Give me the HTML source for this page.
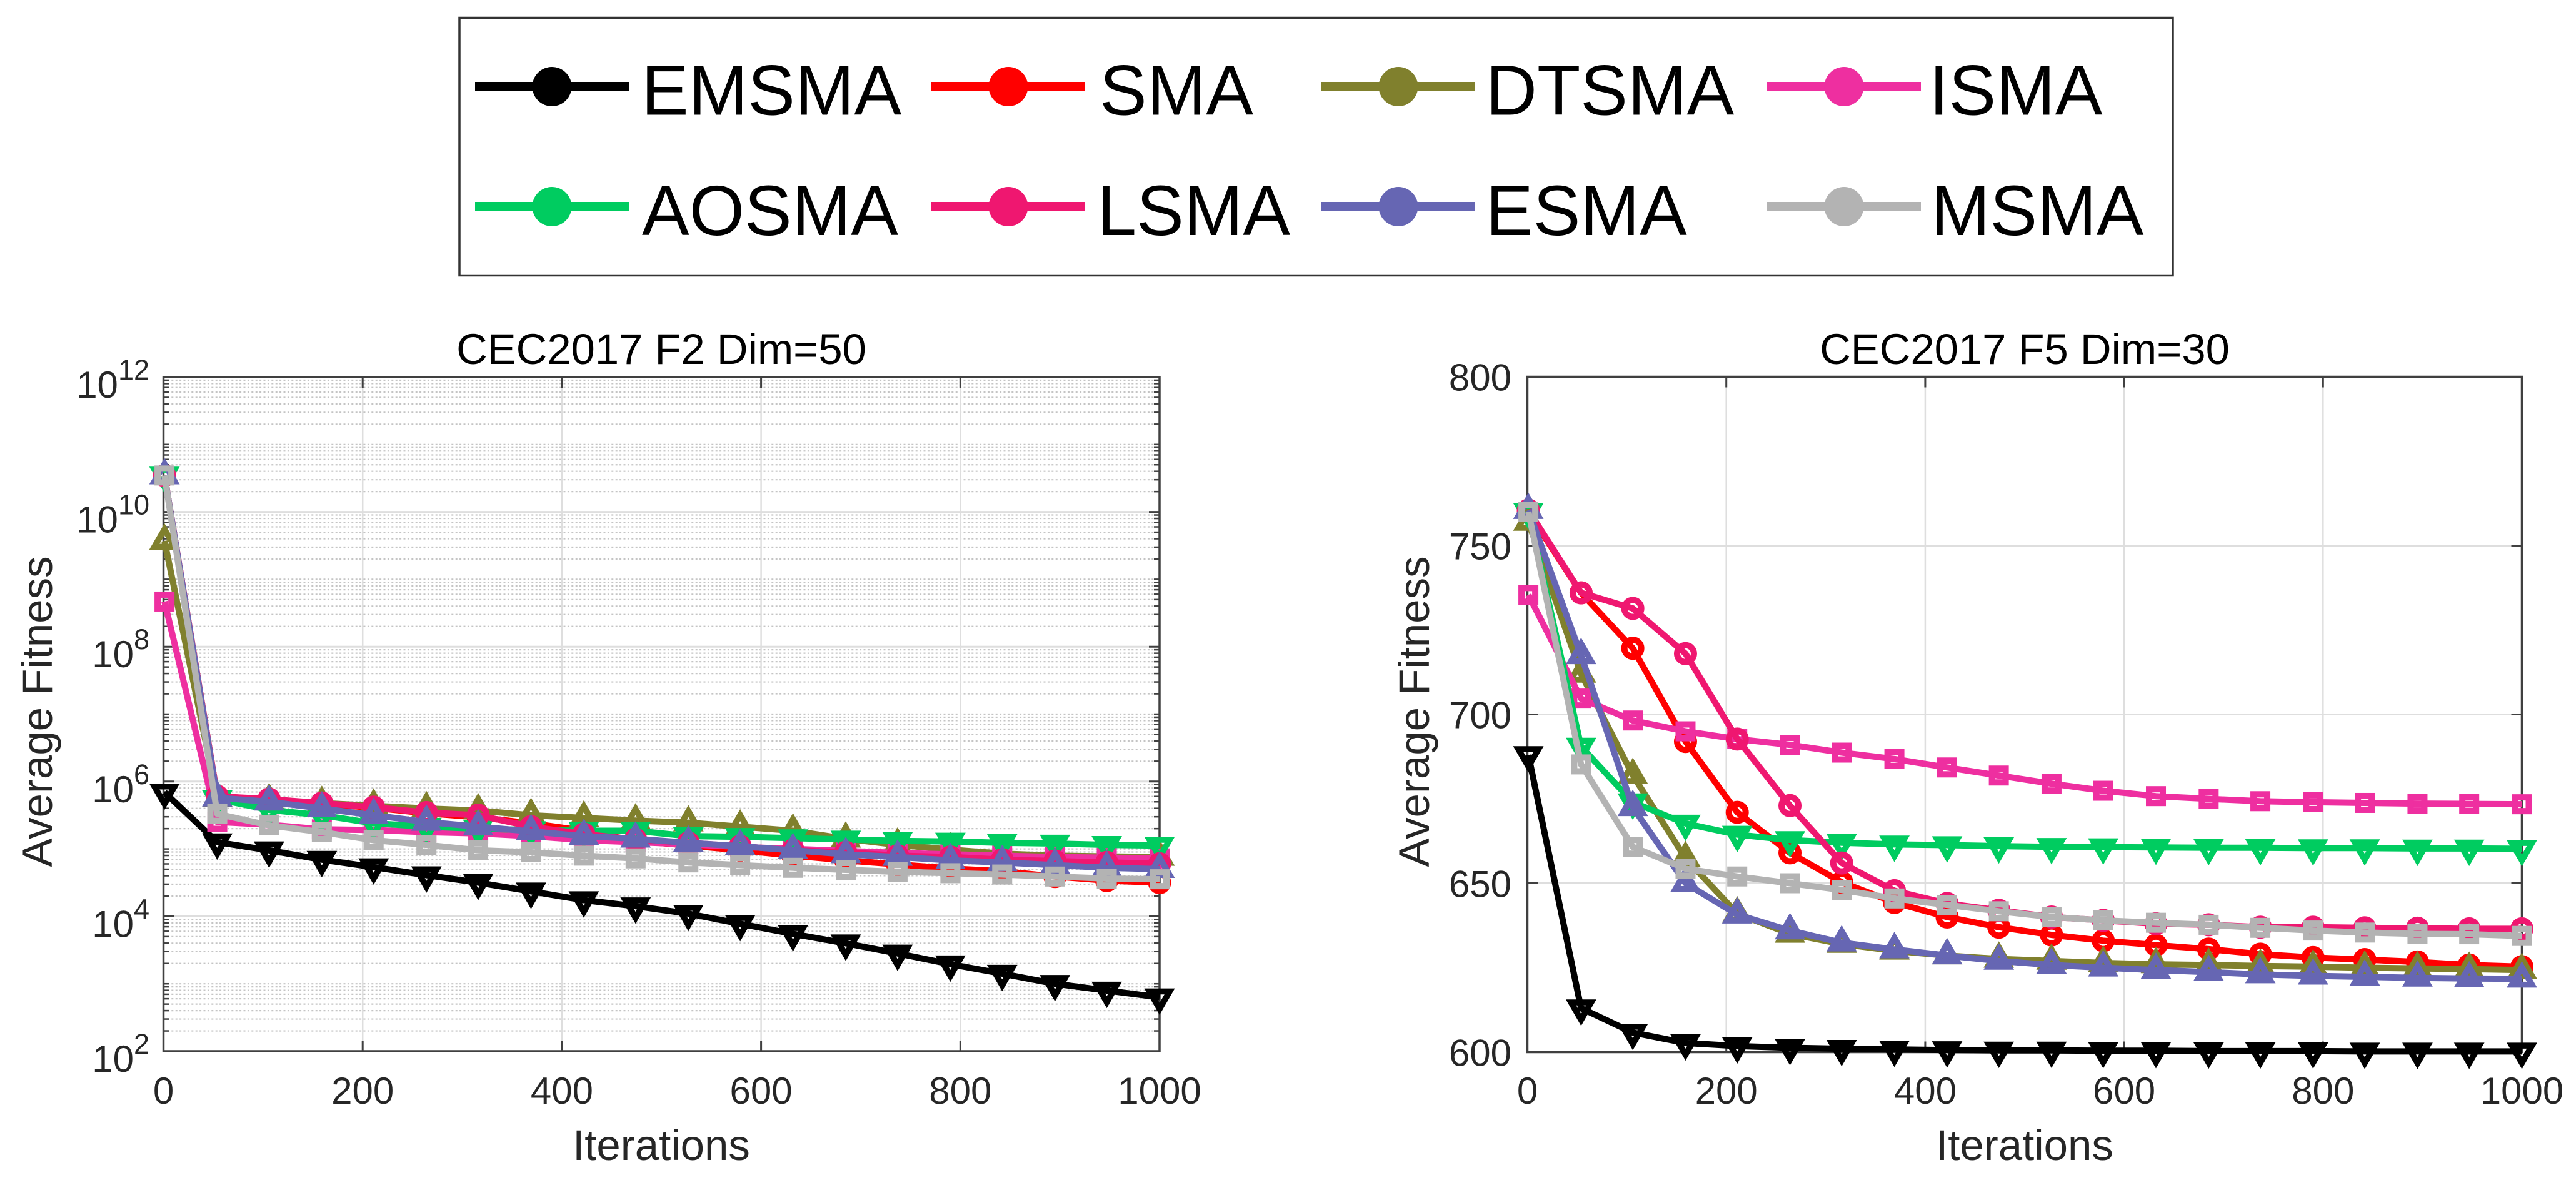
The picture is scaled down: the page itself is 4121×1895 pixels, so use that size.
<!DOCTYPE html>
<html lang="en">
<head>
<meta charset="utf-8">
<title>CEC2017 convergence curves</title>
<style>
html,body{margin:0;padding:0;background:#fff;}
svg{display:block;font-family:"Liberation Sans",Arial,sans-serif;}
</style>
</head>
<body>
<svg id="figure" xmlns="http://www.w3.org/2000/svg" width="4121" height="1895" viewBox="0 0 4121 1895">
  <rect width="4121" height="1895" fill="#fff"/>
  <g id="plot-f2"></g>
  <g id="plot-f5"></g>

  <text x="1058" y="582" font-size="68.8" text-anchor="middle" fill="#000">CEC2017 F2 Dim=50</text>
  <text x="1058" y="1855" font-size="69" text-anchor="middle" fill="#262626">Iterations</text>
  <text transform="translate(83,1138) rotate(-90)" font-size="69" text-anchor="middle" fill="#262626">Average Fitness</text>
  <text x="3239" y="582" font-size="68.8" text-anchor="middle" fill="#000">CEC2017 F5 Dim=30</text>
  <text x="3239" y="1855" font-size="69" text-anchor="middle" fill="#262626">Iterations</text>
  <text transform="translate(2286,1138) rotate(-90)" font-size="69" text-anchor="middle" fill="#262626">Average Fitness</text>

  <g>
    <rect x="735" y="28.5" width="2741" height="412" fill="#fff" stroke="#333" stroke-width="3.5"/>
    <g id="legend-entries"></g>
    <text x="1026" y="183.5" font-size="113.5">EMSMA</text>
    <text x="1759" y="183.5" font-size="113.5">SMA</text>
    <text x="2377" y="183.5" font-size="113.5">DTSMA</text>
    <text x="3086" y="183.5" font-size="113.5">ISMA</text>
    <text x="1027" y="376" font-size="113.5">AOSMA</text>
    <text x="1755" y="376" font-size="113.5">LSMA</text>
    <text x="2377" y="376" font-size="113.5">ESMA</text>
    <text x="3089" y="376" font-size="113.5">MSMA</text>
  </g>
</svg>
<script>
/* ---------- shared data ---------- */
const iterations = [1,54,106,159,211,264,316,369,422,474,527,579,632,685,737,790,842,895,947,1000];
const seriesNames = ['EMSMA','SMA','DTSMA','ISMA','AOSMA','LSMA','ESMA','MSMA'];
const xTicks = [0,200,400,600,800,1000];

/* ---------- F2 data: log10 of average fitness ---------- */
const f2EmsmaLog10 = [5.84,5.1,4.98,4.84,4.73,4.61,4.5,4.37,4.24,4.15,4.04,3.89,3.74,3.6,3.45,3.29,3.15,3.0,2.9,2.8];
const f2SmaLog10   = [10.54,5.78,5.73,5.67,5.61,5.53,5.47,5.38,5.27,5.12,5.05,4.98,4.9,4.83,4.77,4.71,4.67,4.59,4.53,4.5];
const f2DtsmaLog10 = [9.57,5.75,5.72,5.68,5.64,5.6,5.57,5.5,5.46,5.42,5.39,5.33,5.27,5.15,5.06,4.99,4.93,4.9,4.89,4.88];
const f2IsmaLog10  = [8.67,5.4,5.36,5.29,5.28,5.25,5.23,5.19,5.13,5.1,5.07,5.03,5,4.97,4.94,4.92,4.9,4.88,4.87,4.86];
const f2AosmaLog10 = [10.54,5.74,5.58,5.5,5.38,5.33,5.3,5.28,5.27,5.27,5.19,5.18,5.16,5.14,5.12,5.11,5.09,5.08,5.06,5.05];
const f2LsmaLog10  = [10.54,5.78,5.74,5.68,5.62,5.54,5.5,5.33,5.22,5.14,5.09,5.04,4.98,4.95,4.9,4.88,4.84,4.82,4.8,4.78];
const f2EsmaLog10  = [10.54,5.76,5.7,5.6,5.5,5.4,5.33,5.26,5.19,5.15,5.09,5.04,4.98,4.92,4.88,4.83,4.8,4.76,4.72,4.7];
const f2MsmaLog10  = [10.54,5.52,5.35,5.25,5.13,5.06,4.98,4.95,4.9,4.86,4.8,4.76,4.72,4.69,4.66,4.64,4.62,4.59,4.56,4.55];
const f2YTickExponents = [2,4,6,8,10,12];

/* ---------- F5 data: average fitness ---------- */
const f5Emsma = [688,613,605.8,602.7,601.8,601.3,601,600.8,600.6,600.5,600.5,600.4,600.4,600.3,600.3,600.3,600.2,600.2,600.2,600.2];
const f5Sma   = [760,736,719.6,692,671,659,650.3,644.3,640,637,634.7,633,631.7,630.5,629,628,627.4,626.7,625.8,625.3];
const f5Dtsma = [757,712,682,657.4,641,635,632,630,628.6,627.6,627,626.4,626,625.8,625.5,625.3,625,624.8,624.6,624.3];
const f5Isma  = [735.4,704.7,698.2,695,692.7,691,688.7,686.8,684.3,681.9,679.5,677.4,675.8,675,674.3,674,673.8,673.6,673.5,673.4];
const f5Aosma = [760,690.5,674,667.7,664.4,662.8,662,661.5,661.3,661,660.8,660.7,660.6,660.5,660.5,660.4,660.4,660.3,660.3,660.2];
const f5Lsma  = [760.5,736,731.4,718,692.7,673,656,647.8,644,642,640,639,638,637.7,637,637,636.8,636.7,636.5,636.5];
const f5Esma  = [760.5,717.5,672.5,650,640.7,636,632.4,630.4,628.6,627,625.8,625,624.3,623.7,623,622.6,622.3,622,621.8,621.7];
const f5Msma  = [760,685.2,660.8,654.3,652,650,648,645.5,643.6,641.7,640,639,638.3,637.7,636.8,636,635.4,635,634.9,634.4];
const f5YTicks = [600,650,700,750,800];

/* ---------- styling (not data) ---------- */
const styleColors = {EMSMA:'#000000',SMA:'#ff0000',DTSMA:'#80802d',ISMA:'#ee2fa0',AOSMA:'#00cc60',LSMA:'#ef1770',ESMA:'#6666b3',MSMA:'#b3b3b3'};
const styleMarkers = {EMSMA:'down',SMA:'circle',DTSMA:'up',ISMA:'square',AOSMA:'down',LSMA:'circle',ESMA:'up',MSMA:'square'};
const NS = 'http://www.w3.org/2000/svg';
const AXIS_COLOR = '#404040';
const TEXT_COLOR = '#262626';
const LINE_W = 10;

function make(tag, parent, attrs) {
  const el = document.createElementNS(NS, tag);
  for (const k in attrs) el.setAttribute(k, attrs[k]);
  parent.appendChild(el);
  return el;
}
function slug(s) { return s.toLowerCase(); }

function drawMarker(parent, kind, cx, cy, color, prefix) {
  const common = {fill:'none', stroke:color, 'stroke-linejoin':'miter', 'stroke-miterlimit':10};
  let el;
  if (kind === 'circle') {
    el = make('circle', parent, Object.assign({cx:cx, cy:cy, r:13.5, 'stroke-width':10}, common));
  } else if (kind === 'square') {
    el = make('rect', parent, Object.assign({x:cx-11, y:cy-11, width:22, height:22, 'stroke-width':10}, common));
  } else {
    const s = kind === 'up' ? -1 : 1;
    const R = 18.6, hw = R*0.866, b = R*0.5;
    const pts = [[cx, cy+s*R],[cx-hw, cy-s*b],[cx+hw, cy-s*b]].map(p => p.join(',')).join(' ');
    el = make('polygon', parent, Object.assign({points:pts, 'stroke-width':9.6}, common));
  }
  
  
}

function drawPlot(cfg) {
  const g = document.getElementById(cfg.id);
  const L = cfg.left, R = cfg.right, T = cfg.top, B = cfg.bottom;
  const xPx = v => L + (v - 0) / 1000 * (R - L);
  const yPx = v => B - (v - cfg.yMin) / (cfg.yMax - cfg.yMin) * (B - T);

  /* grid */
  const grid = make('g', g, {});
  
  
  if (cfg.log) {
    for (let d = cfg.yMin; d < cfg.yMax; d++) {
      for (let m = 2; m <= 10; m++) {
        const v = d + Math.log10(m);
        if (cfg.yTicks.includes(Math.round(v)) && m === 10) continue;
        const y = yPx(v);
        const ln = make('line', grid, {x1:L, x2:R, y1:y, y2:y, stroke:'#c4c4c4', 'stroke-width':2.2, 'stroke-dasharray':'3 3.4'});
        
        
      }
    }
  }
  cfg.yTicks.forEach(v => {
    const y = yPx(v);
    const ln = make('line', grid, {x1:L, x2:R, y1:y, y2:y, stroke:'#dedede', 'stroke-width':3});
    
    
  });
  xTicks.forEach(v => {
    const x = xPx(v);
    const ln = make('line', grid, {x1:x, x2:x, y1:T, y2:B, stroke:'#dedede', 'stroke-width':2.5});
    
    
  });

  /* axes frame and ticks */
  const axes = make('g', g, {});
  
  
  const frame = make('rect', axes, {x:L, y:T, width:R-L, height:B-T, fill:'none', stroke:AXIS_COLOR, 'stroke-width':3.5});
  
  

  xTicks.forEach(v => {
    const x = xPx(v);
    const t1 = make('line', axes, {x1:x, x2:x, y1:B, y2:B-17, stroke:AXIS_COLOR, 'stroke-width':3});
    
    
    const t2 = make('line', axes, {x1:x, x2:x, y1:T, y2:T+17, stroke:AXIS_COLOR, 'stroke-width':3});
    
    
    const lab = make('text', axes, {x:x, y:1765, 'font-size':60, 'text-anchor':'middle', fill:TEXT_COLOR});
    
    
    lab.textContent = String(v);
  });

  cfg.yTicks.forEach(v => {
    const y = yPx(v);
    [[L, 1],[R, -1]].forEach(([x0, dir]) => {
      const t = make('line', axes, {x1:x0, x2:x0+dir*17, y1:y, y2:y, stroke:AXIS_COLOR, 'stroke-width':3});
      
      
    });
    const lab = make('text', axes, {x:cfg.labelX, y: cfg.log ? y+33 : y+22, 'font-size':60, 'text-anchor':'end', fill:TEXT_COLOR});
    
    
    if (cfg.log) {
      lab.appendChild(document.createTextNode('10'));
      const sup = make('tspan', lab, {dy:-29, 'font-size':45});
      sup.textContent = String(v);
    } else {
      lab.textContent = String(v);
    }
  });

  if (cfg.log) {
    for (let d = cfg.yMin; d < cfg.yMax; d++) {
      for (let m = 2; m <= 9; m++) {
        const y = yPx(d + Math.log10(m));
        [[L, 1],[R, -1]].forEach(([x0, dir]) => {
          const t = make('line', axes, {x1:x0, x2:x0+dir*9, y1:y, y2:y, stroke:AXIS_COLOR, 'stroke-width':2.5});
          
          
        });
      }
      if (!cfg.yTicks.includes(d)) {
        const y = yPx(d);
        [[L, 1],[R, -1]].forEach(([x0, dir]) => {
          const t = make('line', axes, {x1:x0, x2:x0+dir*9, y1:y, y2:y, stroke:AXIS_COLOR, 'stroke-width':2.5});
          
          
        });
      }
    }
  }

  /* series */
  seriesNames.forEach((name, si) => {
    const values = cfg.series[si];
    const color = styleColors[name];
    const sg = make('g', g, {});
    
    
    const pts = values.map((v, i) => xPx(iterations[i]).toFixed(1) + ',' + yPx(v).toFixed(1)).join(' ');
    const line = make('polyline', sg, {points:pts, fill:'none', stroke:color, 'stroke-width':LINE_W, 'stroke-linejoin':'round'});
    
    
    values.forEach((v, i) => {
      drawMarker(sg, styleMarkers[name], xPx(iterations[i]), yPx(v), color, cfg.key + '-' + slug(name));
    });
  });
}

drawPlot({id:'plot-f2', key:'f2', left:261.5, right:1855, top:603, bottom:1681, yMin:2, yMax:12, log:true,
  labelX:239, yTicks:f2YTickExponents,
  series:[f2EmsmaLog10,f2SmaLog10,f2DtsmaLog10,f2IsmaLog10,f2AosmaLog10,f2LsmaLog10,f2EsmaLog10,f2MsmaLog10]});
drawPlot({id:'plot-f5', key:'f5', left:2443.5, right:4034.5, top:602.5, bottom:1682.5, yMin:600, yMax:800, log:false,
  labelX:2418, yTicks:f5YTicks,
  series:[f5Emsma,f5Sma,f5Dtsma,f5Isma,f5Aosma,f5Lsma,f5Esma,f5Msma]});

/* legend swatches */
const legendGroup = document.getElementById('legend-entries');
const legendOrder = ['EMSMA','SMA','DTSMA','ISMA','AOSMA','LSMA','ESMA','MSMA'];
const legendColumns = [883,1613,2237,2950];
const legendRows = [138.5,330.5];
legendOrder.forEach((name, i) => {
  const cx = legendColumns[i % 4];
  const cy = legendRows[i < 4 ? 0 : 1];
  const color = styleColors[name];
  const sw = make('line', legendGroup, {x1:cx-123, x2:cx+123, y1:cy, y2:cy, stroke:color, 'stroke-width':15});
  
  
  const dot = make('circle', legendGroup, {cx:cx, cy:cy, r:31.5, fill:color});
  
  
});
</script>
</body>
</html>
